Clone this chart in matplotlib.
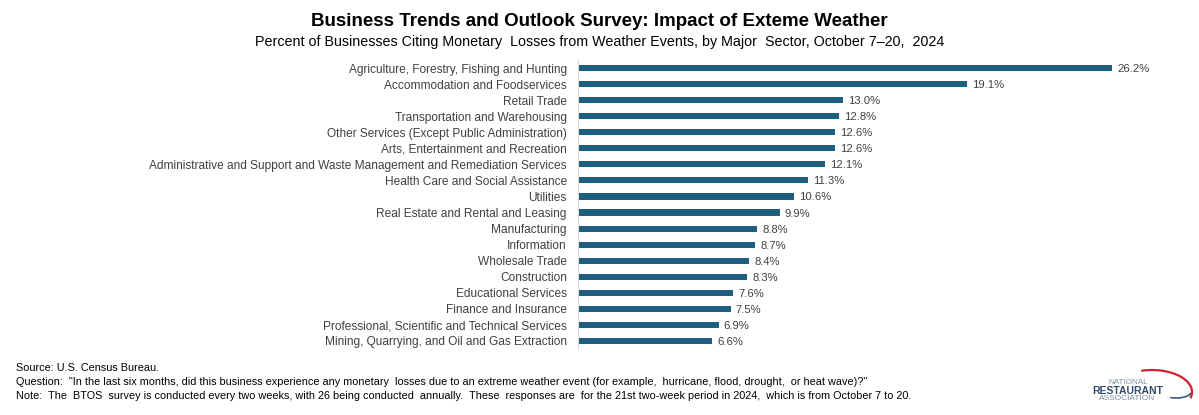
import matplotlib
matplotlib.use('Agg')
import matplotlib.pyplot as plt
from matplotlib.patches import Arc

sectors = [
    "Agriculture, Forestry, Fishing and Hunting",
    "Accommodation and Foodservices",
    "Retail Trade",
    "Transportation and Warehousing",
    "Other Services (Except Public Administration)",
    "Arts, Entertainment and Recreation",
    "Administrative and Support and Waste Management and Remediation Services",
    "Health Care and Social Assistance",
    "Utilities",
    "Real Estate and Rental and Leasing",
    "Manufacturing",
    "Information",
    "Wholesale Trade",
    "Construction",
    "Educational Services",
    "Finance and Insurance",
    "Professional, Scientific and Technical Services",
    "Mining, Quarrying, and Oil and Gas Extraction",
]
pct = [26.2, 19.1, 13.0, 12.8, 12.6, 12.6, 12.1, 11.3, 10.6, 9.9,
       8.8, 8.7, 8.4, 8.3, 7.6, 7.5, 6.9, 6.6]

footer = [
    "Source: U.S. Census Bureau.",
    "Question:  \"In the last six months, did this business experience any monetary  losses due to an extreme weather event (for example,  hurricane, flood, drought,  or heat wave)?\"",
    "Note:  The  BTOS  survey is conducted every two weeks, with 26 being conducted  annually.  These  responses are  for the 21st two-week period in 2024,  which is from October 7 to 20.",
]

plt.rcParams['font.family'] = ['Liberation Sans', 'DejaVu Sans']

bar_color = '#1D5E7E'
text_gray = '#404040'

fig = plt.figure(figsize=(11.99, 4.15), dpi=100)
ax = fig.add_axes([0.482, 0.159, 0.476, 0.6964])

y = list(range(len(sectors)))
ax.barh(y, pct, height=0.38, color=bar_color)
ax.set_ylim(len(sectors) - 0.5, -0.5)
ax.set_xlim(0, 28)

for yi, v in zip(y, pct):
    ax.text(v + 0.25, yi, f"{v:.1f}%", va='center_baseline', ha='left',
            fontsize=8.1, color=text_gray)

ax.set_yticks(y)
ax.set_yticklabels(sectors, fontsize=8.55, color=text_gray, va='center_baseline')
ax.tick_params(axis='y', length=0, pad=8)
ax.set_xticks([])
for s in ['top', 'right', 'bottom']:
    ax.spines[s].set_visible(False)
ax.spines['left'].set_color('#d9d9d9')
ax.spines['left'].set_linewidth(0.8)

fig.text(0.5, 0.948, "Business Trends and Outlook Survey: Impact of Exteme Weather",
         ha='center', va='center', fontsize=13.5, fontweight='bold', color='black')
fig.text(0.5, 0.898, "Percent of Businesses Citing Monetary  Losses from Weather Events, by Major  Sector, October 7\u201320,  2024",
         ha='center', va='center', fontsize=10.3, color='black')

for i, line in enumerate(footer):
    fig.text(0.0135, 1 - (368 + i * 14) / 415, line, ha='left', va='center',
             fontsize=7.85, color='black')

# logo
W, H = 1199, 415
fig.text(1128 / W, 1 - 382.5 / H, "NATIONAL", ha='center', va='center',
         fontsize=5.8, color='#7c8ca6')
fig.text(1128 / W, 1 - 390.5 / H, "RESTAURANT", ha='center', va='center',
         fontsize=7.5, fontweight='bold', color='#2e4a6e')
fig.text(1127 / W, 1 - 398.5 / H, "ASSOCIATION", ha='center', va='center',
         fontsize=6, color='#7c8ca6')
arc = Arc((1152 / W, 1 - 392 / H), 80 / W, 44 / H, theta1=-25, theta2=100,
          transform=fig.transFigure, color='#d0202e', lw=1.6)
fig.add_artist(arc)
swoosh = Arc((1176 / W, 1 - 392 / H), 30 / W, 12 / H, theta1=250, theta2=350,
             transform=fig.transFigure, color='#3d5a85', lw=1.2)
fig.add_artist(swoosh)

fig.savefig('out.png', dpi=100, facecolor='white')
